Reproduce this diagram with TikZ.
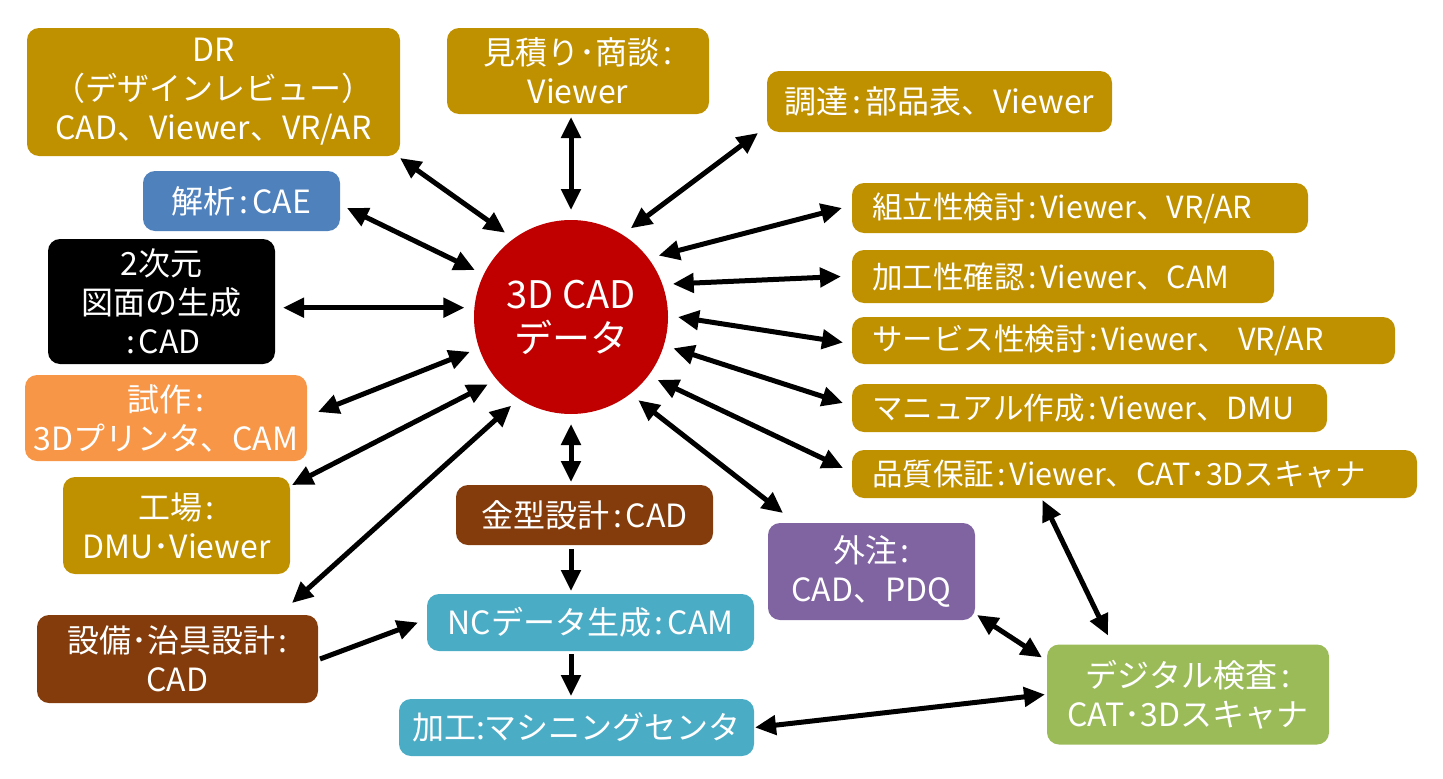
\documentclass[tikz,border=0pt]{standalone}
\usepackage{fontspec}
\setmainfont{Noto Sans CJK JP}
\usetikzlibrary{arrows.meta}
\definecolor{gold}{RGB}{191,144,0}
\definecolor{cblue}{RGB}{79,129,189}
\definecolor{corange}{RGB}{247,150,70}
\definecolor{cbrown}{RGB}{132,60,12}
\definecolor{cteal}{RGB}{75,172,198}
\definecolor{cpurple}{RGB}{128,100,162}
\definecolor{cgreen}{RGB}{155,187,89}
\definecolor{cred}{RGB}{192,0,0}
\newcommand\fntA{\fontsize{32}{39}\selectfont}
\newcommand\fntR{\fontsize{30.5}{36}\selectfont}
\newcommand\fntC{\fontsize{38}{44}\selectfont}
\newcommand\cl{\hspace{0.12em}:\hspace{0.12em}}
\begin{document}
\begin{tikzpicture}[x=1pt,y=-1pt,
  box/.style={rounded corners=12pt, text=white, inner xsep=0pt, inner ysep=0pt,
    align=center, font=\fntA, outer sep=0pt},
  rbox/.style={rounded corners=12pt, text=white, fill=gold, inner xsep=20pt, inner ysep=0pt,
    align=left, font=\fntR, outer sep=0pt},
  dbl/.style={line width=5pt, {Triangle[length=21pt,width=19pt]}-{Triangle[length=21pt,width=19pt]}},
  sgl/.style={line width=5pt, -{Triangle[length=21pt,width=19pt]}}]
\useasboundingbox (0,0) rectangle (1443,779);
% centre
\node[circle, fill=cred, minimum size=194pt, inner sep=0pt, outer sep=10pt,
  text=white, font=\fntC, align=center] (c) at (571,317) {3D CAD\\データ};
% left / top boxes
\node[box, fill=gold, text width=373pt, minimum height=128pt] (dr) at (213.5,92)
  {DR\\（デザインレビュー）\\CAD、Viewer、VR/AR};
\node[box, fill=gold, text width=262pt, minimum height=86pt] (mit) at (578,71)
  {見積り･商談\cl\\Viewer};
\node[box, fill=gold, text width=345pt, minimum height=61pt] (cho) at (939.5,101.5)
  {調達\cl 部品表、Viewer};
\node[box, fill=cblue, text width=197pt, minimum height=60pt] (kai) at (241.5,201)
  {解析\cl CAE};
\node[box, fill=black, text width=227pt, minimum height=125pt] (nij) at (161.5,301.5)
  {2次元\\図面の生成\\\cl CAD};
\node[box, fill=corange, text width=282pt, minimum height=86pt] (shi) at (166,418)
  {試作\cl\\3Dプリンタ、CAM};
\node[box, fill=gold, text width=227pt, minimum height=97pt] (kou) at (176.5,525.5)
  {工場\cl\\DMU･Viewer};
\node[box, fill=cbrown, text width=281pt, minimum height=88pt] (set) at (177.5,659)
  {設備･治具設計\cl\\CAD};
% bottom centre
\node[box, fill=cbrown, text width=257pt, minimum height=60pt] (kin) at (584.5,515)
  {金型設計\cl CAD};
\node[box, fill=cteal, text width=327pt, minimum height=57pt] (nc) at (590.5,622.5)
  {NCデータ生成\cl CAM};
\node[box, fill=cteal, text width=355pt, minimum height=57pt] (kako) at (576.5,727.5)
  {加工:マシニングセンタ};
\node[box, fill=cpurple, text width=207pt, minimum height=97pt] (gai) at (871.5,571.5)
  {外注\cl\\CAD、PDQ};
\node[box, fill=cgreen, text width=282pt, minimum height=100pt] (dig) at (1188,694.5)
  {デジタル検査\cl\\CAT･3Dスキャナ};
% right column
\node[rbox, text width=416pt, minimum height=50pt] (kumi) at (1080,208)
  {組立性検討\cl Viewer、VR/AR};
\node[rbox, text width=382pt, minimum height=53pt] (kak) at (1063,276.5)
  {加工性確認\cl Viewer、CAM};
\node[rbox, text width=503pt, minimum height=47pt] (svc) at (1123.5,340.5)
  {サービス性検討\cl Viewer、 VR/AR};
\node[rbox, text width=435pt, minimum height=48pt] (man) at (1089.5,408)
  {マニュアル作成\cl Viewer、DMU};
\node[rbox, text width=525pt, minimum height=48pt] (hin) at (1134.5,474)
  {品質保証\cl Viewer、CAT･3Dスキャナ};
% connectors to the centre
\draw[dbl] (c.128) -- ([yshift=-2pt]dr.south east);
\draw[dbl, shorten >=3pt] (c.90) -- (c.90 |- mit.south);
\draw[dbl] (c.56) -- ([xshift=-9pt,yshift=-1pt]cho.south west);
\draw[dbl] (c.35) -- ([xshift=-10pt]kumi.west);
\draw[dbl] (c.18) -- ([xshift=-11pt]kak.west);
\draw[dbl] (c.0) -- ([xshift=-9pt,yshift=-2pt]svc.west);
\draw[dbl] (c.-17) -- ([xshift=-9pt,yshift=5pt]man.west);
\draw[dbl] (c.-36) -- ([xshift=-9pt,yshift=6pt]hin.west);
\draw[dbl] (c.-51) -- ([xshift=15pt,yshift=10pt]gai.north west);
\draw[dbl, shorten >=3pt] (c.-90) -- (c.-90 |- kin.north);
\draw[dbl] (c.-124) -- ([xshift=-26pt,yshift=12pt]set.north east);
\draw[dbl] (c.-141) -- ([xshift=2pt,yshift=-8pt]kou.north east);
\draw[dbl] (c.-161) -- ([xshift=11pt,yshift=6pt]shi.east);
\draw[dbl, shorten >=8pt] (c.175) -- (c.175 -| nij.east);
\draw[dbl] (c.154) -- ([xshift=7pt,yshift=-7pt]kai.east);
% process chain
\draw[sgl, shorten <=4pt, shorten >=3pt] (c.-90 |- kin.south) -- (c.-90 |- nc.north);
\draw[sgl, shorten <=3pt, shorten >=3pt] (c.-90 |- nc.south) -- (c.-90 |- kako.north);
\draw[sgl] ([xshift=2pt]set.east) -- ([xshift=-9pt]nc.west);
\draw[dbl] ([xshift=1pt]kako.east) -- ([xshift=-2pt]dig.west);
\draw[dbl] ([xshift=2pt,yshift=5pt]gai.south east) -- ([xshift=-5pt,yshift=-13pt]dig.north west);
\draw[dbl] ([xshift=-92pt,yshift=-2pt]hin.south) -- ([xshift=-80pt,yshift=9pt]dig.north);
\end{tikzpicture}
\end{document}
